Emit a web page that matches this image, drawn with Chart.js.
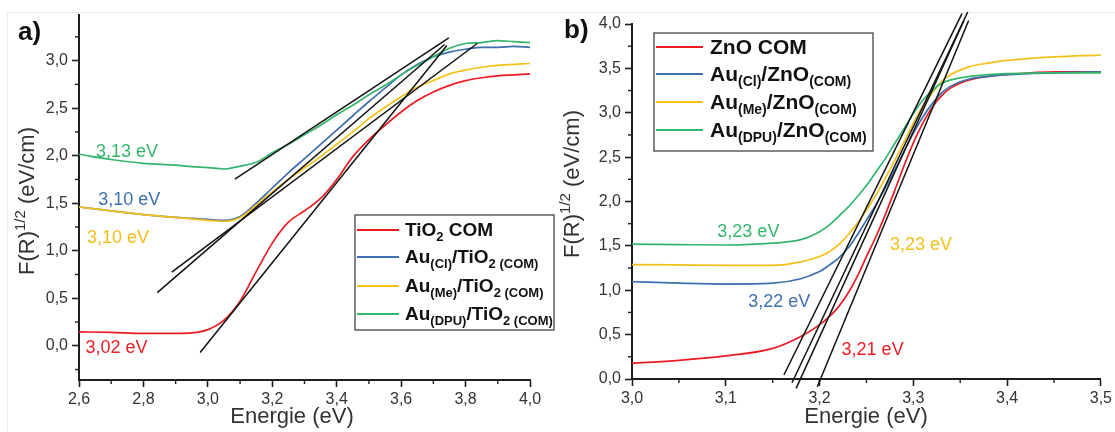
<!DOCTYPE html>
<html><head><meta charset="utf-8">
<script src="https://cdn.jsdelivr.net/npm/chart.js@4.4.1/dist/chart.umd.min.js"></script>
<style>
html,body{margin:0;padding:0;background:#fff;width:1115px;height:432px;overflow:hidden}
#frame{position:absolute;left:7px;top:12px;width:1108px;height:420px;border-top:1px solid #ececec;border-left:1px solid #ececec;box-sizing:border-box}
#ca{position:absolute;left:0;top:0}
#cb{position:absolute;left:556px;top:0}
</style></head><body>
<div id="frame"></div>
<canvas id="ca" width="556" height="432"></canvas>
<canvas id="cb" width="559" height="432"></canvas>
<script>
// ---------- Panel a) TiO2 ----------
const energyA   = [2.60,2.70,2.80,2.90,2.95,3.00,3.05,3.10,3.15,3.20,3.25,3.30,3.35,3.40,3.45,3.50,3.55,3.60,3.65,3.70,3.75,3.80,3.85,3.90,3.95,4.00];
const tio2Com   = [0.147,0.14,0.13,0.13,0.135,0.17,0.27,0.47,0.78,1.08,1.30,1.42,1.55,1.75,1.99,2.17,2.32,2.46,2.58,2.67,2.74,2.79,2.82,2.84,2.85,2.86];
const auClTio2  = [1.46,1.42,1.38,1.35,1.34,1.33,1.32,1.36,1.50,1.66,1.82,1.97,2.12,2.27,2.42,2.57,2.71,2.85,2.96,3.04,3.09,3.12,3.14,3.14,3.15,3.14];
const auMeTio2  = [1.46,1.42,1.38,1.35,1.335,1.32,1.31,1.35,1.48,1.62,1.75,1.87,1.99,2.12,2.25,2.39,2.51,2.62,2.72,2.79,2.86,2.90,2.93,2.95,2.96,2.97];
const auDpuTio2 = [2.015,1.96,1.92,1.90,1.885,1.875,1.86,1.89,1.93,2.03,2.12,2.22,2.32,2.43,2.53,2.64,2.74,2.85,2.95,3.04,3.13,3.18,3.19,3.21,3.20,3.19];
// tangent lines [x1, y1, x2, y2] : TiO2, Au(Cl), Au(Me), Au(DPU)
const tangentsA = [[2.976,-0.07,3.742,3.16],[2.843,0.559,3.735,3.17],[2.888,0.775,3.836,3.18],[3.084,1.753,3.748,3.24]];
const gapLabelsA = ['3,02 eV','3,10 eV','3,10 eV','3,13 eV'];
const ticksAx = [2.6,2.8,3.0,3.2,3.4,3.6,3.8,4.0];
const ticksAy = [0.0,0.5,1.0,1.5,2.0,2.5,3.0];

// ---------- Panel b) ZnO ----------
const energyB   = [3.00,3.05,3.10,3.15,3.18,3.20,3.21,3.22,3.23,3.24,3.25,3.26,3.27,3.28,3.29,3.30,3.31,3.32,3.33,3.34,3.36,3.38,3.40,3.45,3.50];
const znoCom    = [0.176,0.21,0.26,0.345,0.48,0.61,0.70,0.81,0.96,1.15,1.38,1.60,1.85,2.12,2.40,2.66,2.88,3.06,3.19,3.28,3.37,3.41,3.43,3.46,3.46];
const auClZno   = [1.096,1.08,1.07,1.08,1.13,1.21,1.28,1.36,1.47,1.62,1.79,1.96,2.15,2.35,2.56,2.77,2.95,3.10,3.22,3.30,3.38,3.41,3.43,3.45,3.46];
const auMeZno   = [1.29,1.285,1.28,1.28,1.32,1.38,1.43,1.51,1.62,1.75,1.90,2.07,2.26,2.46,2.67,2.88,3.07,3.22,3.35,3.43,3.52,3.56,3.59,3.63,3.65];
const auDpuZno  = [1.52,1.515,1.51,1.53,1.57,1.66,1.73,1.83,1.93,2.05,2.18,2.33,2.48,2.65,2.82,2.99,3.14,3.25,3.33,3.37,3.41,3.43,3.44,3.45,3.45];
const tangentsB = [[3.1976,-0.087,3.359,4.04],[3.175,-0.105,3.354,4.04],[3.1706,-0.042,3.358,4.135],[3.162,0.045,3.352,4.12]];
const gapLabelsB = ['3,21 eV','3,22 eV','3,23 eV','3,23 eV'];
const ticksBx = [3.0,3.1,3.2,3.3,3.4,3.5];
const ticksBy = [0.0,0.5,1.0,1.5,2.0,2.5,3.0,3.5,4.0];

const seriesNamesA = ['TiO_{2} COM','Au_{(Cl)}/TiO_{2 (COM)}','Au_{(Me)}/TiO_{2 (COM)}','Au_{(DPU)}/TiO_{2 (COM)}'];
const seriesNamesB = ['ZnO COM','Au_{(Cl)}/ZnO_{(COM)}','Au_{(Me)}/ZnO_{(COM)}','Au_{(DPU)}/ZnO_{(COM)}'];
const yTitle = 'F(R)^{1/2} (eV/cm)';
const xTitle = 'Energie (eV)';

// ---------- styling ----------
const COLORS = ['#ec1c24','#3e6fae','#f4c01a','#34b66c'];
const FONT = '"Liberation Sans", Arial, Helvetica, sans-serif';
const AX = '#1e1e1e';

function drawRich(ctx, str, x, y, size, weight, color, measureOnly){
  const re=/([_^])\{([^}]*)\}/g; let last=0, m; const parts=[];
  while((m=re.exec(str))){ if(m.index>last) parts.push([str.slice(last,m.index),'n']); parts.push([m[2], m[1]==='_'?'sub':'sup']); last=re.lastIndex; }
  if(last<str.length) parts.push([str.slice(last),'n']);
  ctx.fillStyle=color; ctx.textAlign='left'; ctx.textBaseline='alphabetic';
  let cx=x;
  for(const [t,k] of parts){
    const s = k==='n'?size:Math.round(size*0.68);
    ctx.font = `${weight} ${s}px ${FONT}`;
    const dy = k==='sub'? size*0.27 : k==='sup'? -size*0.40 : 0;
    if(!measureOnly) ctx.fillText(t, cx, y+dy);
    cx += ctx.measureText(t).width;
  }
  return cx-x;
}

function fmt(v){ return (Math.round(v*10)/10).toFixed(1).replace('.',','); }

function makeDatasets(energy, series, names, tangents){
  const ds=[];
  tangents.forEach((t,i)=>{
    ds.push({label:'tangent', isTangent:true, data:[{x:t[0],y:t[1]},{x:t[2],y:t[3]}],
      borderColor:'#111', borderWidth:1.5, pointRadius:0, clip:false, order:0, tension:0});
  });
  series.forEach((s,i)=>{
    ds.push({label:names[i], data:energy.map((e,j)=>({x:e,y:s[j]})), borderColor:COLORS[i],
      borderWidth:1.7, pointRadius:0, cubicInterpolationMode:'monotone', order:1+(3-i), clip:false});
  });
  return ds;
}

function scaleCfg(min,max,ticks,isX,size){
  return {
    type:'linear', min, max, position: isX?'bottom':'left',
    afterBuildTicks: s=>{ s.ticks = ticks.map(v=>({value:v})); },
    afterFit: s=>{ if(isX) s.height=size; else s.width=size; },
    grid:{drawOnChartArea:false, drawTicks:true, tickLength:7, tickColor:AX, tickWidth:1.6, color:AX},
    border:{display:true, color:AX, width:2},
    ticks:{callback:v=>fmt(v), color:'#333', font:{family:FONT,size:16}, padding: isX?3:4, maxRotation:0, autoSkip:false}
  };
}

const decoPlugin = {
  id:'deco',
  afterDraw(chart){
    const o = chart.options.plugins.deco; const ctx=chart.ctx;
    const xs=chart.scales.x, ys=chart.scales.y;
    ctx.save();
    // minor ticks
    ctx.strokeStyle=AX; ctx.lineWidth=1.4;
    o.minorX.forEach(v=>{ const px=xs.getPixelForValue(v); ctx.beginPath(); ctx.moveTo(px,xs.top); ctx.lineTo(px,xs.top+4); ctx.stroke(); });
    o.minorY.forEach(v=>{ const py=ys.getPixelForValue(v); ctx.beginPath(); ctx.moveTo(ys.right,py); ctx.lineTo(ys.right-4,py); ctx.stroke(); });
    // panel letter
    ctx.font=`bold 26px ${FONT}`; ctx.fillStyle='#111'; ctx.textAlign='left'; ctx.textBaseline='alphabetic';
    ctx.fillText(o.letter, o.letterPos[0], o.letterPos[1]);
    // y title (rotated, with superscript)
    ctx.save();
    ctx.translate(o.yTitlePos[0], o.yTitlePos[1]); ctx.rotate(-Math.PI/2);
    const w = drawRich(ctx, yTitle, 0, 0, 22, 'normal', '#333', true);
    drawRich(ctx, yTitle, -w/2, 22*0.36, 22, 'normal', '#333');
    ctx.restore();
    // x title
    ctx.font=`22px ${FONT}`; ctx.fillStyle='#333'; ctx.textAlign='center'; ctx.textBaseline='middle';
    ctx.fillText(xTitle, o.xTitlePos[0], o.xTitlePos[1]);
    // gap annotations
    o.gapLabels.forEach((t,i)=>{
      const p=o.gapPos[i];
      ctx.font=`18px ${FONT}`; ctx.fillStyle=COLORS[i]; ctx.textAlign='left'; ctx.textBaseline='middle';
      ctx.fillText(t, xs.getPixelForValue(p[0]), ys.getPixelForValue(p[1]));
    });
    // legend
    const L=o.legend;
    ctx.fillStyle='#fff'; ctx.fillRect(L.box[0],L.box[1],L.box[2]-L.box[0],L.box[3]-L.box[1]);
    ctx.strokeStyle='#444'; ctx.lineWidth=1.3;
    ctx.strokeRect(L.box[0],L.box[1],L.box[2]-L.box[0],L.box[3]-L.box[1]);
    const items = chart.data.datasets.filter(d=>!d.isTangent);
    items.forEach((d,i)=>{
      const y=L.rows[i];
      ctx.strokeStyle=d.borderColor; ctx.lineWidth=2;
      ctx.beginPath(); ctx.moveTo(L.line[0],y); ctx.lineTo(L.line[1],y); ctx.stroke();
      drawRich(ctx, d.label, L.textX, y+L.size*0.36-1, L.size, 'bold', '#111');
    });
    ctx.restore();
  }
};

function range(a,b,step){ const r=[]; for(let v=a; v<=b+1e-9; v+=step) r.push(Math.round(v*1000)/1000); return r; }

new Chart(document.getElementById('ca'), {
  type:'line',
  data:{datasets: makeDatasets(energyA,[tio2Com,auClTio2,auMeTio2,auDpuTio2],seriesNamesA,tangentsA)},
  options:{
    responsive:false, animation:false, devicePixelRatio:1,
    layout:{padding:{left:0,top:15,right:26,bottom:0}},
    scales:{ x: scaleCfg(2.6,4.0,ticksAx,true,52), y: scaleCfg(-0.36,3.48,ticksAy,false,79) },
    plugins:{ legend:{display:false}, tooltip:{enabled:false},
      deco:{ letter:'a)', letterPos:[18,40], yTitlePos:[26,201], xTitlePos:[292,417],
        minorX: range(2.7,3.9,0.2), minorY: range(-0.25,3.25,0.5),
        gapLabels: gapLabelsA, gapPos:[[2.62,-0.02],[2.66,1.53],[2.625,1.135],[2.653,2.04]].map((p,i)=>p),
        legend:{box:[355,215,554,330], line:[357,399], textX:405, rows:[230,257,286,314], size:19} } }
  },
  plugins:[decoPlugin]
});

new Chart(document.getElementById('cb'), {
  type:'line',
  data:{datasets: makeDatasets(energyB,[znoCom,auClZno,auMeZno,auDpuZno],seriesNamesB,tangentsB)},
  options:{
    responsive:false, animation:false, devicePixelRatio:1,
    layout:{padding:{left:0,top:24,right:14,bottom:0}},
    scales:{ x: scaleCfg(3.0,3.5,ticksBx,true,53), y: scaleCfg(0,4.0,ticksBy,false,76) },
    plugins:{ legend:{display:false}, tooltip:{enabled:false},
      deco:{ letter:'b)', letterPos:[8,38], yTitlePos:[15,184], xTitlePos:[310,417],
        minorX: range(3.05,3.45,0.1), minorY: range(0.25,3.75,0.5),
        gapLabels: gapLabelsB, gapPos:[[3.2235,0.326],[3.124,0.87],[3.275,1.51],[3.091,1.66]],
        legend:{box:[98,33,317,151], line:[100,147], textX:154, rows:[47,74,102,130], size:21} } }
  },
  plugins:[decoPlugin]
});
</script>
</body></html>
